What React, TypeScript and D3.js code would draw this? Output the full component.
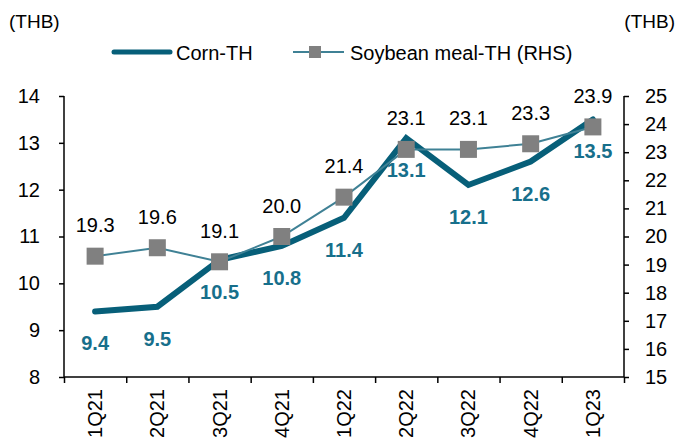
import React, { useEffect, useRef } from 'react';
import * as d3 from 'd3';

const quarters = ['1Q21', '2Q21', '3Q21', '4Q21', '1Q22', '2Q22', '3Q22', '4Q22', '1Q23'];
const cornTH = [9.4, 9.5, 10.5, 10.8, 11.4, 13.1, 12.1, 12.6, 13.5];
const soybeanMealTH = [19.3, 19.6, 19.1, 20.0, 21.4, 23.1, 23.1, 23.3, 23.9];
const leftTicks = [8, 9, 10, 11, 12, 13, 14];
const rightTicks = [15, 16, 17, 18, 19, 20, 21, 22, 23, 24, 25];

const FONT = 'Arial, "Liberation Sans", sans-serif';
const CORN = '#075f79'; // dark teal
const CORN_LABEL = '#176f8b';
const SOY = '#3f8195';
const MARKER = '#808080';

const App: React.FC = () => {
  const svgRef = useRef<SVGSVGElement>(null);

  useEffect(() => {
    if (!svgRef.current) return;

    const width = 678;
    const height = 447;
    const left = 64;
    const right = 624;
    const top = 96;
    const bottom = 377;

    const svg = d3.select(svgRef.current);
    svg.selectAll('*').remove();
    svg.attr('width', width).attr('height', height);

    const x = d3.scaleBand<string>().domain(quarters).range([left, right]);
    const cx = (q: string) => (x(q) || 0) + x.bandwidth() / 2;
    const yL = d3.scaleLinear().domain([8, 14]).range([bottom, top]);
    const yR = d3.scaleLinear().domain([15, 25]).range([bottom, top]);

    // unit labels
    svg.append('text').attr('x', 9).attr('y', 28).text('(THB)')
      .attr('font-family', FONT).attr('font-size', 19).attr('fill', '#000');
    svg.append('text').attr('x', 675).attr('y', 28).attr('text-anchor', 'end').text('(THB)')
      .attr('font-family', FONT).attr('font-size', 19).attr('fill', '#000');

    // legend
    const lg = svg.append('g').attr('font-family', FONT).attr('font-size', 20);
    lg.append('line').attr('x1', 114).attr('x2', 170).attr('y1', 52).attr('y2', 52)
      .attr('stroke', CORN).attr('stroke-width', 5).attr('stroke-linecap', 'round');
    lg.append('text').attr('x', 176).attr('y', 60).text('Corn-TH');
    lg.append('line').attr('x1', 293).attr('x2', 344).attr('y1', 52).attr('y2', 52)
      .attr('stroke', SOY).attr('stroke-width', 2);
    lg.append('rect').attr('x', 309).attr('y', 46).attr('width', 12).attr('height', 12).attr('fill', MARKER);
    lg.append('text').attr('x', 350).attr('y', 60).text('Soybean meal-TH (RHS)');

    // axes
    const axisL = d3.axisLeft(yL).tickValues(leftTicks).tickSize(5).tickPadding(19).tickFormat(d3.format('d'));
    const axisR = d3.axisRight(yR).tickValues(rightTicks).tickSize(5).tickPadding(16).tickFormat(d3.format('d'));
    const axisB = d3.axisBottom(d3.scaleLinear().domain([0, quarters.length]).range([left, right]))
      .tickValues(d3.range(quarters.length + 1)).tickSize(6).tickFormat(() => '');

    const styleAxis = (g: d3.Selection<SVGGElement, unknown, null, undefined>) => {
      g.selectAll('path').attr('stroke', '#000').attr('stroke-width', 1.5);
      g.selectAll('line').attr('stroke', '#000').attr('stroke-width', 1.5);
      g.selectAll('text').attr('font-family', FONT).attr('font-size', 20).attr('fill', '#000');
    };

    svg.append('g').attr('transform', `translate(${left},0)`).call(axisL).call(styleAxis)
      .call((g) => g.select('.domain').attr('d', `M0,${top}V${bottom}`));
    svg.append('g').attr('transform', `translate(${right},0)`).call(axisR).call(styleAxis)
      .call((g) => g.select('.domain').attr('d', `M0,${top}V${bottom}`));
    svg.append('g').attr('transform', `translate(0,${bottom})`).call(axisB).call(styleAxis)
      .call((g) => g.select('.domain').attr('d', `M${left},0H${right}`));

    // category labels, rotated
    svg.append('g').selectAll('text').data(quarters).enter().append('text')
      .attr('transform', (d) => `translate(${cx(d)},389) rotate(-90)`)
      .attr('text-anchor', 'end').attr('dy', '0.35em')
      .attr('font-family', FONT).attr('font-size', 20).attr('fill', '#000')
      .text((d) => d);

    // corn line
    const cornLine = d3.line<number>().x((_, i) => cx(quarters[i])).y((d) => yL(d));
    svg.append('path').datum(cornTH).attr('d', cornLine)
      .attr('fill', 'none').attr('stroke', CORN).attr('stroke-width', 6)
      .attr('stroke-linejoin', 'miter').attr('stroke-linecap', 'round');

    // soybean line + markers
    const soyLine = d3.line<number>().x((_, i) => cx(quarters[i])).y((d) => yR(d));
    svg.append('path').datum(soybeanMealTH).attr('d', soyLine)
      .attr('fill', 'none').attr('stroke', SOY).attr('stroke-width', 2);
    svg.append('g').selectAll('rect').data(soybeanMealTH).enter().append('rect')
      .attr('x', (_, i) => cx(quarters[i]) - 8.5).attr('y', (d) => yR(d) - 8.5)
      .attr('width', 17).attr('height', 17).attr('fill', MARKER);

    // data labels
    svg.append('g').selectAll('text').data(soybeanMealTH).enter().append('text')
      .attr('x', (_, i) => cx(quarters[i])).attr('y', (d) => yR(d) - 24)
      .attr('text-anchor', 'middle').attr('font-family', FONT).attr('font-size', 20).attr('fill', '#000')
      .text((d) => d.toFixed(1));
    svg.append('g').selectAll('text').data(cornTH).enter().append('text')
      .attr('x', (_, i) => cx(quarters[i])).attr('y', (d) => yL(d) + 39)
      .attr('text-anchor', 'middle').attr('font-family', FONT).attr('font-size', 20)
      .attr('font-weight', 'bold').attr('fill', CORN_LABEL)
      .text((d) => d.toFixed(1));
  }, []);

  return (
    <div style={{ position: 'absolute', left: 0, top: 0, background: '#fff' }}>
      <svg ref={svgRef} style={{ display: 'block' }}></svg>
    </div>
  );
};

export default App;
